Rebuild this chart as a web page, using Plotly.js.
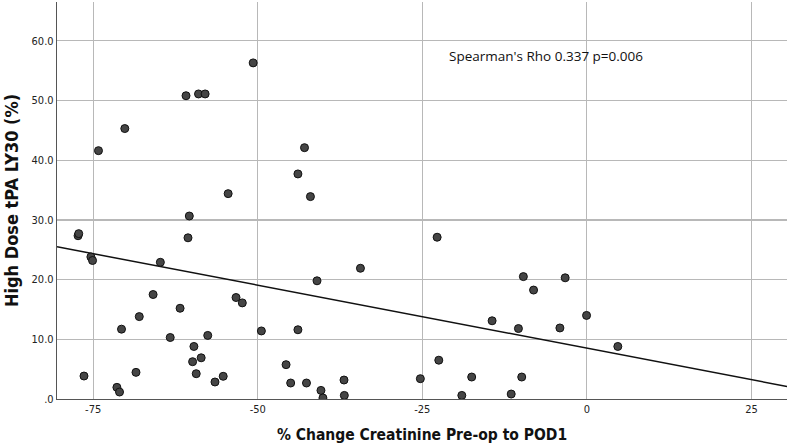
<!DOCTYPE html>
<html>
<head>
<meta charset="utf-8">
<script src="https://cdn.plot.ly/plotly-3.0.1.min.js"></script>
<style>html,body{margin:0;padding:0;background:#fff;}#chart{width:790px;height:447px;}</style>
</head>
<body>
<div id="chart"></div>
<script>
// % change creatinine (x) and High Dose tPA LY30 (y)
const creatChange = [-74.2,-70.2,-60.9,-59.0,-58.0,-50.7,-54.5,-42.9,-43.9,-42.0,
  -77.3,-77.2,-75.35,-75.1,-60.4,-60.6,-64.8,-65.9,-61.8,-68.0,
  -70.7,-53.3,-52.35,-49.45,-43.9,-63.3,-57.6,-59.7,-58.6,-59.9,
  -59.35,-68.5,-76.4,-71.4,-71.0,-56.5,-55.25,-45.7,-45.0,-42.6,
  -22.75,-34.4,-41.0,-9.65,-8.1,-14.4,-10.4,-22.5,-40.4,-40.1,
  -36.9,-36.85,-25.3,-17.5,-19.0,-11.5,-9.9,-3.3,-4.1,-0.05,4.7];
const ly30 = [41.6,45.3,50.8,51.1,51.1,56.3,34.4,42.1,37.7,33.9,
  27.35,27.7,23.8,23.2,30.65,27.0,22.9,17.5,15.2,13.8,
  11.7,17.0,16.1,11.4,11.6,10.3,10.65,8.8,6.9,6.25,
  4.24,4.46,3.85,1.95,1.17,2.85,3.8,5.75,2.68,2.68,
  27.1,21.9,19.8,20.5,18.25,13.1,11.8,6.5,1.44,0.17,
  3.18,0.6,3.4,3.68,0.6,0.83,3.68,20.3,11.9,14.0,8.8];
// fit line endpoints
const fitX = [-80.5, 30.4];
const fitY = [25.5, 2.1];
const xTickVals = [-75,-50,-25,0,25];
const xTickText = ['-75','-50','-25','0','25'];
const yTickVals = [0,10,20,30,40,50,60];
const yTickText = ['.0','10.0','20.0','30.0','40.0','50.0','60.0'];
const annText = "Spearman's Rho 0.337 p=0.006";

const titleFont = '"DejaVu Sans Condensed", "DejaVu Sans", sans-serif';
const traces = [
  {x: fitX, y: fitY, type:'scatter', mode:'lines', line:{color:'#111', width:1.5}, hoverinfo:'skip'},
  {x: creatChange, y: ly30, type:'scatter', mode:'markers',
   marker:{size:8, color:'#454545', line:{color:'#111', width:1}}}
];
const layout = {
  width:790, height:447,
  margin:{l:57, r:3, t:2, b:48},
  paper_bgcolor:'#fff', plot_bgcolor:'#fff',
  showlegend:false,
  font:{family:'"DejaVu Sans Condensed", "DejaVu Sans", sans-serif', color:'#222', size:11},
  xaxis:{range:[-80.5,30.4], tickvals:xTickVals, ticktext:xTickText,
    showgrid:true, gridcolor:'#b8b8b8', gridwidth:1.2, zeroline:false,
    showline:true, linecolor:'#555', linewidth:1.2, ticks:'', ticklen:0,
    tickfont:{size:11, color:'#222'},
    title:{text:'% Change Creatinine Pre-op to POD1', font:{size:15.5, color:'#111', family:titleFont, weight:'bold'}, standoff:13}},
  yaxis:{range:[0,66.5], tickvals:yTickVals, ticktext:yTickText,
    showgrid:true, gridcolor:'#b8b8b8', gridwidth:1.2, zeroline:false,
    showline:true, linecolor:'#555', linewidth:1.2, ticks:'', ticklen:0,
    tickfont:{size:11, color:'#222'},
    title:{text:'High Dose tPA LY30 (%)', font:{size:18, color:'#111', family:titleFont, weight:'bold'}, standoff:8}},
  annotations:[{x:-21.3, y:57.4, xref:'x', yref:'y', text:annText, showarrow:false,
    xanchor:'left', yanchor:'middle', font:{family:'"Open Sans", sans-serif', size:13.5, color:'#111'}}]
};
Plotly.newPlot('chart', traces, layout, {displayModeBar:false, staticPlot:true});
</script>
</body>
</html>
